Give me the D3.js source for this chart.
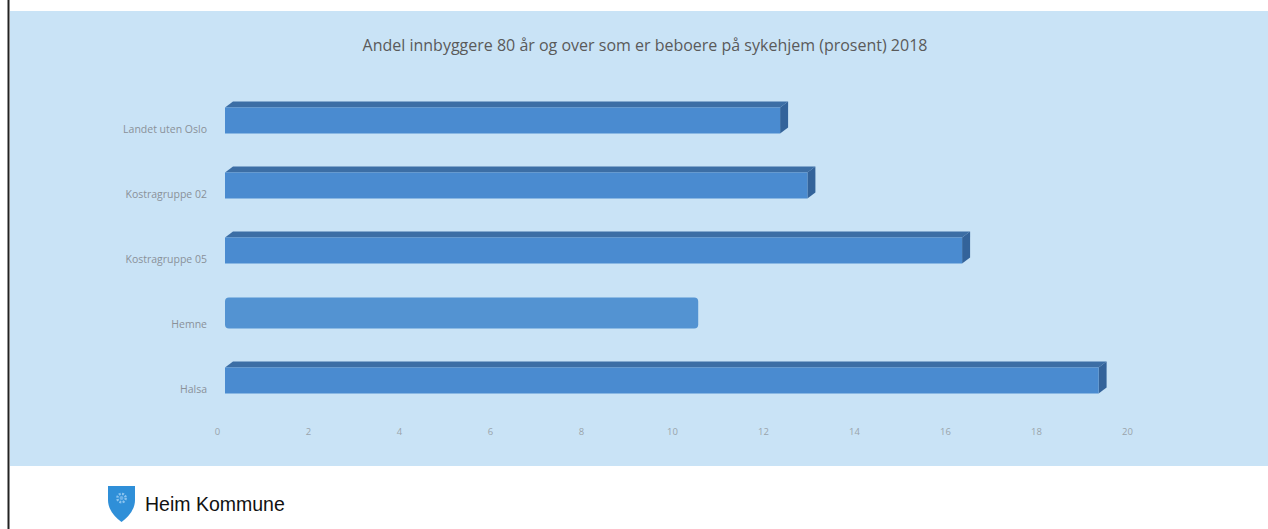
<!DOCTYPE html>
<html>
<head>
<meta charset="utf-8">
<script src="https://cdn.jsdelivr.net/npm/d3@7"></script>
<style>
  html, body { margin: 0; padding: 0; background: #fff; }
  svg { display: block; }
</style>
</head>
<body>
<svg id="chart" width="1268" height="529"></svg>
<script>
// Andel innbyggere 80 år og over som er beboere på sykehjem (prosent) 2018
const categories = ["Landet uten Oslo", "Kostragruppe 02", "Kostragruppe 05", "Hemne", "Halsa"];
const values = [12.2, 12.8, 16.2, 10.4, 19.2];
const highlighted = ["Hemne"];
const tickValues = [0, 2, 4, 6, 8, 10, 12, 14, 16, 18, 20];
const title = "Andel innbyggere 80 år og over som er beboere på sykehjem (prosent) 2018";
const footerText = "Heim Kommune";

const W = 1268, H = 529;
const svg = d3.select("#chart");

// panel background
svg.append("rect").attr("x", 10).attr("y", 11).attr("width", W - 10).attr("height", 455)
  .attr("fill", "#c9e3f6");
// left page edge
svg.append("line").attr("x1", 8.5).attr("x2", 8.5).attr("y1", 0).attr("y2", H)
  .attr("stroke", "#222").attr("stroke-width", 2);

// title
svg.append("text").attr("x", 645).attr("y", 51).attr("text-anchor", "middle")
  .attr("font-family", "Open Sans, Liberation Sans, sans-serif").attr("font-size", 16)
  .attr("fill", "#5a5a5a").text(title);

const x = d3.scaleLinear().domain([0, 20]).range([225, 1135]);
const y = d3.scaleBand().domain(categories).range([88, 413]).paddingInner(0.6).paddingOuter(0.3);

const depthX = 8, depthY = 6;
const bw = y.bandwidth();

const bars = svg.append("g").selectAll("g").data(categories).join("g");

bars.each(function (c, i) {
  const g = d3.select(this);
  const x0 = x(0), x1 = x(values[i]), y0 = y(c), y1 = y0 + bw;
  if (highlighted.includes(c)) {
    // flat bar without depth
    g.append("rect").attr("x", x0).attr("y", y0 - depthY + 1).attr("width", x1 - x0)
      .attr("height", bw + depthY - 1).attr("rx", 4).attr("fill", "#5393d2");
    return;
  }
  // top face
  g.append("path")
    .attr("d", `M${x0},${y0} L${x0 + depthX},${y0 - depthY} L${x1 + depthX},${y0 - depthY} L${x1},${y0} Z`)
    .attr("fill", "#3c6ea5");
  // side face
  g.append("path")
    .attr("d", `M${x1},${y0} L${x1 + depthX},${y0 - depthY} L${x1 + depthX},${y1 - depthY} L${x1},${y1} Z`)
    .attr("fill", "#33639a");
  // front face
  g.append("rect").attr("x", x0).attr("y", y0).attr("width", x1 - x0).attr("height", bw)
    .attr("fill", "#4a8bd0");
});

// category labels
svg.append("g").selectAll("text").data(categories).join("text")
  .attr("x", 207).attr("y", d => y(d) + bw / 2 + 12)
  .attr("text-anchor", "end")
  .attr("font-family", "Open Sans, Liberation Sans, sans-serif").attr("font-size", 10.5)
  .attr("fill", "#8a9199").text(d => d);

// value axis labels
const axis = d3.axisBottom(x).tickValues(tickValues).tickSize(0).tickPadding(0);
const ax = svg.append("g").attr("transform", "translate(-8,428)").call(axis);
ax.select(".domain").remove();
ax.selectAll("text").attr("font-family", "Open Sans, Liberation Sans, sans-serif")
  .attr("font-size", 9.5).attr("fill", "#9aa3ab");

// footer logo
const logo = svg.append("g").attr("transform", "translate(108,486)");
logo.append("path")
  .attr("d", "M0,0 L27,0 L27,14 C27,24 20,31 13.5,36 C7,31 0,24 0,14 Z")
  .attr("fill", "#2f8fd8");
logo.append("circle").attr("cx", 13.5).attr("cy", 12).attr("r", 4.2)
  .attr("fill", "none").attr("stroke", "#8cc4ef").attr("stroke-width", 2.4)
  .attr("stroke-dasharray", "2 1.3");
logo.append("circle").attr("cx", 13.5).attr("cy", 12).attr("r", 2).attr("fill", "#6fb2e8");

svg.append("text").attr("x", 145).attr("y", 511)
  .attr("font-family", "Liberation Sans, Arial, sans-serif").attr("font-size", 19.5)
  .attr("fill", "#111").text(footerText);
</script>
</body>
</html>
